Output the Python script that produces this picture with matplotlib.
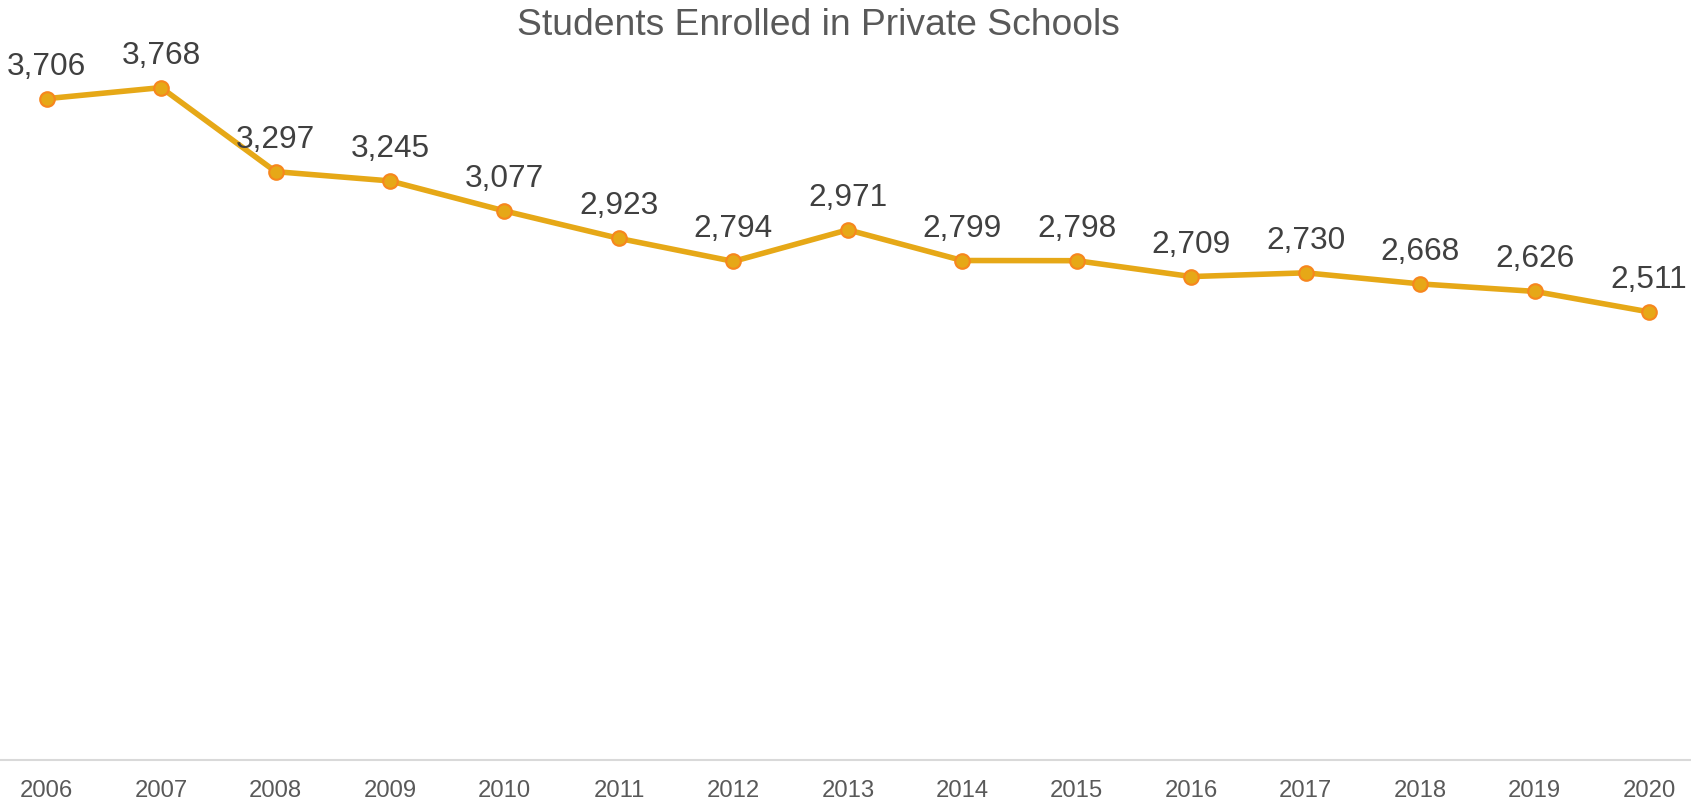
import matplotlib
matplotlib.use('Agg')
import matplotlib.pyplot as plt

# -------------------- Data --------------------
years = ['2006', '2007', '2008', '2009', '2010', '2011', '2012', '2013',
         '2014', '2015', '2016', '2017', '2018', '2019', '2020']
students = [3706, 3768, 3297, 3245, 3077, 2923, 2794, 2971,
            2799, 2798, 2709, 2730, 2668, 2626, 2511]

plt.rcParams['font.family'] = ['Liberation Sans', 'DejaVu Sans']

# -------------------- Plot --------------------
fig = plt.figure(figsize=(16.91, 8.04), dpi=100)
ax = fig.add_axes([0.0, 0.0535, 1.0, 0.8878])

x = list(range(len(years)))
ax.plot(x, students, color='#E6A817', linewidth=4.0, marker='o',
        markersize=10.5, markerfacecolor='#E6A817', markeredgecolor='#F7861E',
        markeredgewidth=1.5, zorder=3, clip_on=False)

# data labels above each point
for xi, v in zip(x, students):
    ax.annotate(f"{v:,}", (xi, v), xytext=(0, 18), textcoords='offset points',
                ha='center', va='baseline', fontsize=22.8, color='#404040')

ax.set_xlim(-0.408, 14.367)
ax.set_ylim(0, 4000)
ax.set_xticks(x)
ax.set_xticklabels(years, fontsize=17.2, color='#595959')
ax.tick_params(axis='x', length=0, pad=14)
ax.set_yticks([])

for side in ['top', 'left', 'right']:
    ax.spines[side].set_visible(False)
ax.spines['bottom'].set_color('#D9D9D9')
ax.spines['bottom'].set_linewidth(1.5)

fig.text(818 / 1691, 1 - 35 / 804, "Students Enrolled in Private Schools",
         ha='center', va='baseline', fontsize=26.8, color='#595959')

fig.savefig("out.png", dpi=100)
plt.close(fig)
